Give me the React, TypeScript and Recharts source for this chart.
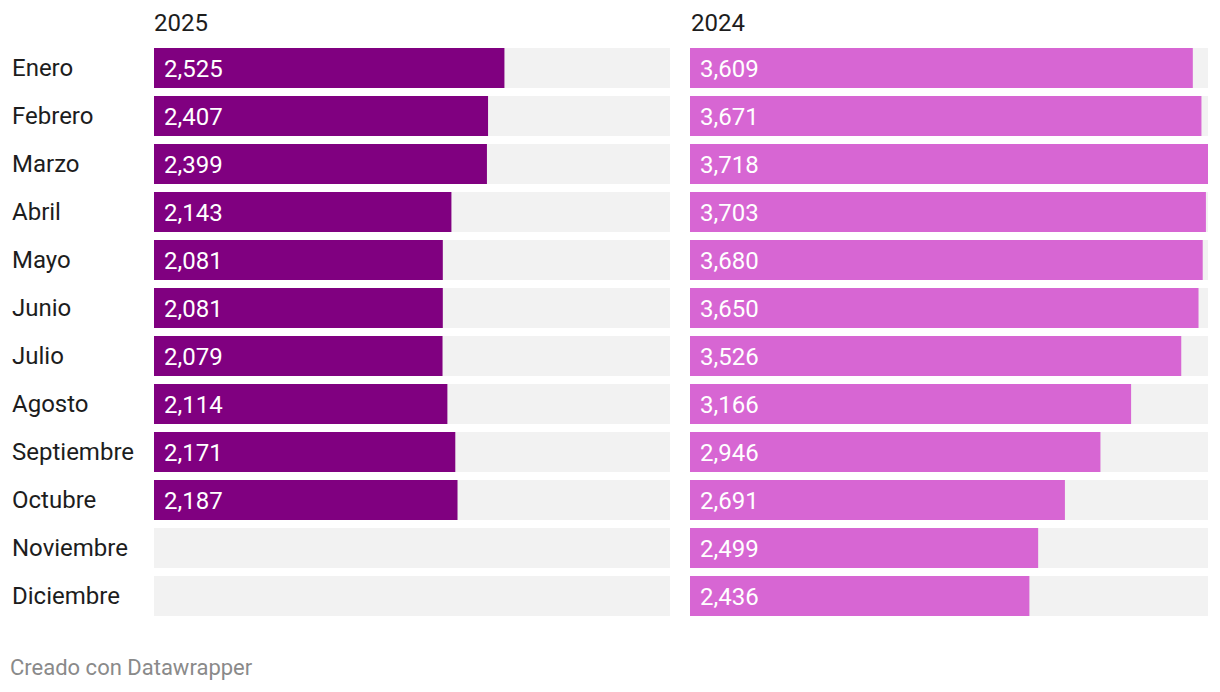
import React from "react";
import { Bar, BarChart, LabelList, XAxis, YAxis } from "recharts";

const months = [
  "Enero", "Febrero", "Marzo", "Abril", "Mayo", "Junio",
  "Julio", "Agosto", "Septiembre", "Octubre", "Noviembre", "Diciembre",
];
const values2025: (number | null)[] = [2525, 2407, 2399, 2143, 2081, 2081, 2079, 2114, 2171, 2187, null, null];
const values2024 = [3609, 3671, 3718, 3703, 3680, 3650, 3526, 3166, 2946, 2691, 2499, 2436];

const FONT = "Roboto, 'Noto Sans', sans-serif";
const MAX = 3718;

const rows2025 = months.map((m, i) => ({ month: m, value: values2025[i] }));
const rows2024 = months.map((m, i) => ({ month: m, value: values2024[i] }));

const fmt = (v: any) => (v == null ? "" : Number(v).toLocaleString("en-US"));

function Panel({ data, color, withLabels, width }: { data: any[]; color: string; withLabels: boolean; width: number }) {
  return (
    <BarChart
      width={width}
      height={620}
      data={data}
      layout="vertical"
      margin={{ top: 44, right: 0, bottom: 0, left: withLabels ? 154 : 0 }}
      barSize={40}
    >
      <XAxis type="number" domain={[0, MAX]} hide allowDataOverflow />
      {/* grey track on its own axis so it sits behind the value bar, also for empty months */}
      <YAxis yAxisId="track" type="category" dataKey="month" hide />
      <YAxis yAxisId="value" type="category" dataKey="month" hide />
      <Bar yAxisId="track" dataKey={() => MAX} fill="#f2f2f2" isAnimationActive={false}>
        {withLabels && (
          <LabelList
            dataKey="month"
            content={(p: any) => (
              <text x={12} y={p.y + 20} dy={8} textAnchor="start" fill="#1d1d1d" fontSize={24} fontFamily={FONT}>
                {p.value}
              </text>
            )}
          />
        )}
      </Bar>
      <Bar yAxisId="value" dataKey="value" fill={color} isAnimationActive={false}>
        <LabelList
          dataKey="value"
          position="insideLeft"
          offset={10}
          formatter={fmt}
          fill="#ffffff"
          fontSize={24}
          fontFamily={FONT}
        />
      </Bar>
    </BarChart>
  );
}

export default function App() {
  return (
    <div style={{ position: "absolute", top: 0, left: 0, width: 1220, height: 692, background: "#fff", fontFamily: FONT }}>
      <div style={{ position: "absolute", left: 154, top: 9, fontSize: 24, color: "#1d1d1d" }}>2025</div>
      <div style={{ position: "absolute", left: 691, top: 9, fontSize: 24, color: "#1d1d1d" }}>2024</div>
      <div style={{ position: "absolute", left: 0, top: 0 }}>
        <Panel data={rows2025} color="#800080" withLabels width={670} />
      </div>
      <div style={{ position: "absolute", left: 690, top: 0 }}>
        <Panel data={rows2024} color="#d766d3" withLabels={false} width={518} />
      </div>
      <div style={{ position: "absolute", left: 10, top: 655, fontSize: 22, color: "#8a8a8a" }}>
        Creado con Datawrapper
      </div>
    </div>
  );
}
